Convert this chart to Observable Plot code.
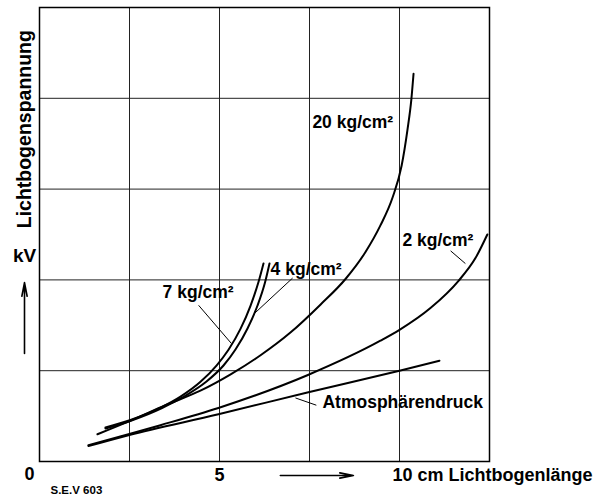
<!DOCTYPE html>
<html><head><meta charset="utf-8">
<script src="https://cdn.jsdelivr.net/npm/d3@7"></script>
<script src="https://cdn.jsdelivr.net/npm/@observablehq/plot@0.6"></script>
<style>html,body{margin:0;padding:0;background:#fff;}</style>
</head><body><div id="chart"></div>
<script>
// Grid (cm on x, arbitrary kV divisions on y)
const xGrid = [0, 2.5, 5, 7.5, 10, 12.5];
const yGrid = [0, 1, 2, 3, 4, 5];

// Curves: arc length (cm) vs arc voltage (grid units)
const len20 = [1.61, 2.53, 3.50, 4.47, 5.31, 6.14, 6.97, 7.81, 8.50, 9.06, 9.47, 9.81, 10.06, 10.22, 10.33, 10.39];
const kv20  = [0.30, 0.45, 0.62, 0.78, 0.96, 1.17, 1.42, 1.73, 2.01, 2.31, 2.60, 2.91, 3.26, 3.65, 3.99, 4.27];

const len7 = [1.833, 2.528, 3.361, 3.917, 4.472, 4.917, 5.250, 5.583, 5.861, 6.083, 6.222];
const kv7  = [0.374, 0.457, 0.593, 0.715, 0.878, 1.057, 1.231, 1.460, 1.714, 1.976, 2.181];

const len4 = [1.833, 2.556, 3.403, 4.014, 4.639, 5.111, 5.444, 5.778, 6.056, 6.264, 6.389];
const kv4  = [0.363, 0.452, 0.589, 0.716, 0.881, 1.057, 1.233, 1.465, 1.718, 1.971, 2.181];

const len2 = [1.36, 2.47, 3.36, 4.97, 7.44, 9.47, 10.0, 10.86, 11.64, 12.11, 12.44];
const kv2  = [0.18, 0.30, 0.40, 0.59, 0.95, 1.33, 1.45, 1.69, 1.99, 2.24, 2.50];

const lenAtm = [1.36, 2.47, 4.97, 7.44, 10.0, 11.11];
const kvAtm  = [0.17, 0.29, 0.52, 0.76, 1.00, 1.11];

const seriesNames = ["20 kg/cm²", "7 kg/cm²", "4 kg/cm²", "2 kg/cm²", "Atmosphärendruck"];
const seriesX = [len20, len7, len4, len2, lenAtm];
const seriesY = [kv20, kv7, kv4, kv2, kvAtm];

// Curve labels (data coords: text start, vertical centre)
const labelText = ["20 kg/cm²", "7 kg/cm²", "4 kg/cm²", "2 kg/cm²", "Atmosphärendruck"];
const labelX = [7.58, 3.42, 6.42, 10.08, 7.86];
const labelY = [3.74, 1.86, 2.12, 2.44, 0.65];

// Leader lines from label to curve
const leaderX1 = [4.42, 7.03, 11.42, 7.11];
const leaderY1 = [1.72, 2.02, 2.32, 0.70];
const leaderX2 = [5.33, 5.97, 11.83, 7.69];
const leaderY2 = [1.30, 1.63, 2.18, 0.62];

// Axis tick labels
const xTickValues = [0, 5, 10];
const xTickLabels = ["0", "5", "10 cm Lichtbogenlänge"];

const rows = seriesNames.flatMap((name, k) => seriesX[k].map((x, i) => ({series: name, x, y: seriesY[k][i]})));
const labels = labelText.map((t, i) => ({t, x: labelX[i], y: labelY[i]}));
const leaders = leaderX1.map((x1, i) => ({x1, y1: leaderY1[i], x2: leaderX2[i], y2: leaderY2[i]}));
const ticks = xTickValues.map((v, i) => ({v, t: xTickLabels[i]}));

const font = "'Liberation Sans', Arial, Helvetica, sans-serif";

const chart = Plot.plot({
  width: 608,
  height: 497,
  marginLeft: 39,
  marginRight: 119,
  marginTop: 7,
  marginBottom: 36,
  style: {fontFamily: font, background: "#fff", color: "#000"},
  x: {domain: [0, 12.5], axis: null},
  y: {domain: [0, 5], axis: null},
  marks: [
    Plot.ruleX(xGrid, {stroke: "#222", strokeWidth: 1}),
    Plot.ruleY(yGrid, {stroke: "#222", strokeWidth: 1}),
    Plot.frame({stroke: "#000", strokeWidth: 1.5}),
    Plot.line(rows, {x: "x", y: "y", z: "series", curve: "monotone-x", stroke: "#000", strokeWidth: 2}),
    Plot.link(leaders, {x1: "x1", y1: "y1", x2: "x2", y2: "y2", stroke: "#000", strokeWidth: 1}),
    Plot.text(labels, {x: "x", y: "y", text: "t", textAnchor: "start", fontSize: 17.5, fontWeight: "bold", fill: "#000"}),
    // x tick labels
    Plot.text(ticks.slice(0, 1), {x: "v", y: 0, text: "t", dy: 13, dx: -10, fontSize: 18, fontWeight: "bold", fill: "#000"}),
    Plot.text(ticks.slice(1, 2), {x: "v", y: 0, text: "t", dy: 14, fontSize: 18, fontWeight: "bold", fill: "#000"}),
    Plot.text(ticks.slice(2), {x: "v", y: 0, text: "t", dy: 14, dx: -7, textAnchor: "start", fontSize: 18, fontWeight: "bold", fill: "#000"}),
    // horizontal arrow
    Plot.arrow([{x1: 6.69, x2: 8.72}], {x1: "x1", x2: "x2", y1: 0, y2: 0, dy: 14, stroke: "#000", strokeWidth: 1.6, headLength: 13, headAngle: 22}),
    // y axis label
    Plot.text(["Lichtbogenspannung"], {x: 0, y: 3.66, text: d => d, dx: -15, rotate: -90, fontSize: 19.5, fontWeight: "bold", fill: "#000"}),
    Plot.text(["kV"], {x: 0, y: 2.26, text: d => d, dx: -15, fontSize: 19, fontWeight: "bold", fill: "#000"}),
    Plot.arrow([{y1: 1.19, y2: 1.97}], {x1: 0, x2: 0, y1: "y1", y2: "y2", dx: -15, stroke: "#000", strokeWidth: 1.6, headLength: 13, headAngle: 22}),
    // figure reference
    Plot.text(["S.E.V 603"], {x: 0, y: 0, text: d => d, dx: 11, dy: 29, textAnchor: "start", fontSize: 11.5, fontWeight: "bold", fill: "#000", style: {letterSpacing: "0.5px"}})
  ]
});
document.getElementById("chart").appendChild(chart);
</script>
</body></html>
